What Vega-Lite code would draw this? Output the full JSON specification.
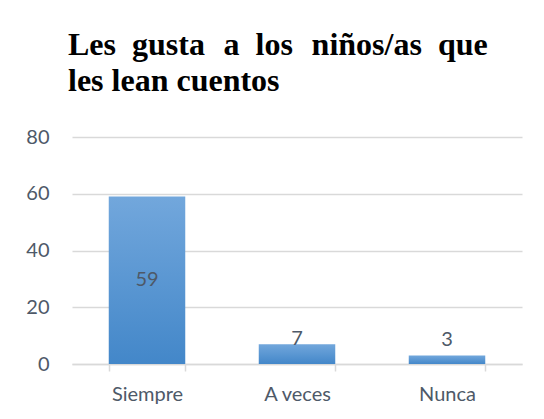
{
  "$schema": "https://vega.github.io/schema/vega-lite/v6.json",
  "width": 450,
  "height": 227,
  "autosize": {"type": "none"},
  "padding": {"left": 72, "top": 137, "right": 22, "bottom": 55},
  "background": "white",
  "config": {"view": {"stroke": null}},
  "title": {
    "text": ["Les\u00a0 gusta\u00a0\u200a a\u00a0 los\u00a0\u200a niños/as\u00a0 que", "les lean cuentos"],
    "anchor": "start",
    "frame": "group",
    "font": "Liberation Serif",
    "fontSize": 32,
    "fontWeight": "bold",
    "color": "black",
    "lineHeight": 36,
    "dx": -4,
    "offset": 29
  },
  "data": {
    "values": [
      {"respuesta": "Siempre", "valor": 59},
      {"respuesta": "A veces", "valor": 7},
      {"respuesta": "Nunca", "valor": 3}
    ]
  },
  "encoding": {
    "x": {
      "field": "respuesta",
      "type": "nominal",
      "sort": null,
      "title": null,
      "scale": {"paddingInner": 0.49, "paddingOuter": 0.245},
      "axis": {
        "labelAngle": 0,
        "labelFont": "Lato",
        "labelFontSize": 20,
        "labelColor": "#4e5968",
        "labelPadding": 13,
        "domainColor": "#d9d9d9",
        "domainWidth": 1.5,
        "tickColor": "#d9d9d9",
        "tickWidth": 1.5,
        "tickSize": 7,
        "tickBand": "extent",
        "grid": false
      }
    }
  },
  "layer": [
    {
      "mark": {
        "type": "bar",
        "color": {
          "gradient": "linear",
          "x1": 0, "y1": 0, "x2": 0, "y2": 1,
          "stops": [
            {"offset": 0, "color": "#72a7dc"},
            {"offset": 1, "color": "#4387c9"}
          ]
        }
      },
      "encoding": {
        "y": {
          "field": "valor",
          "type": "quantitative",
          "title": null,
          "scale": {"domain": [0, 80]},
          "axis": {
            "values": [0, 20, 40, 60, 80],
            "labelFont": "Lato",
            "labelFontSize": 20,
            "labelColor": "#4e5968",
            "labelPadding": 23,
            "domain": false,
            "ticks": false,
            "gridColor": "#d9d9d9",
            "gridWidth": 1.5
          }
        }
      }
    },
    {
      "transform": [{"filter": "datum.valor >= 30"}, {"calculate": "datum.valor / 2", "as": "medio"}],
      "mark": {"type": "text", "font": "Lato", "fontSize": 20, "color": "#4e5968", "baseline": "middle"},
      "encoding": {
        "y": {"field": "medio", "type": "quantitative"},
        "text": {"field": "valor", "type": "quantitative"}
      }
    },
    {
      "transform": [{"filter": "datum.valor == 7"}],
      "mark": {"type": "text", "font": "Lato", "fontSize": 20, "color": "#4e5968", "baseline": "middle", "dy": -5},
      "encoding": {
        "y": {"field": "valor", "type": "quantitative"},
        "text": {"field": "valor", "type": "quantitative"}
      }
    },
    {
      "transform": [{"filter": "datum.valor == 3"}],
      "mark": {"type": "text", "font": "Lato", "fontSize": 20, "color": "#4e5968", "baseline": "middle", "dy": -15},
      "encoding": {
        "y": {"field": "valor", "type": "quantitative"},
        "text": {"field": "valor", "type": "quantitative"}
      }
    }
  ]
}
